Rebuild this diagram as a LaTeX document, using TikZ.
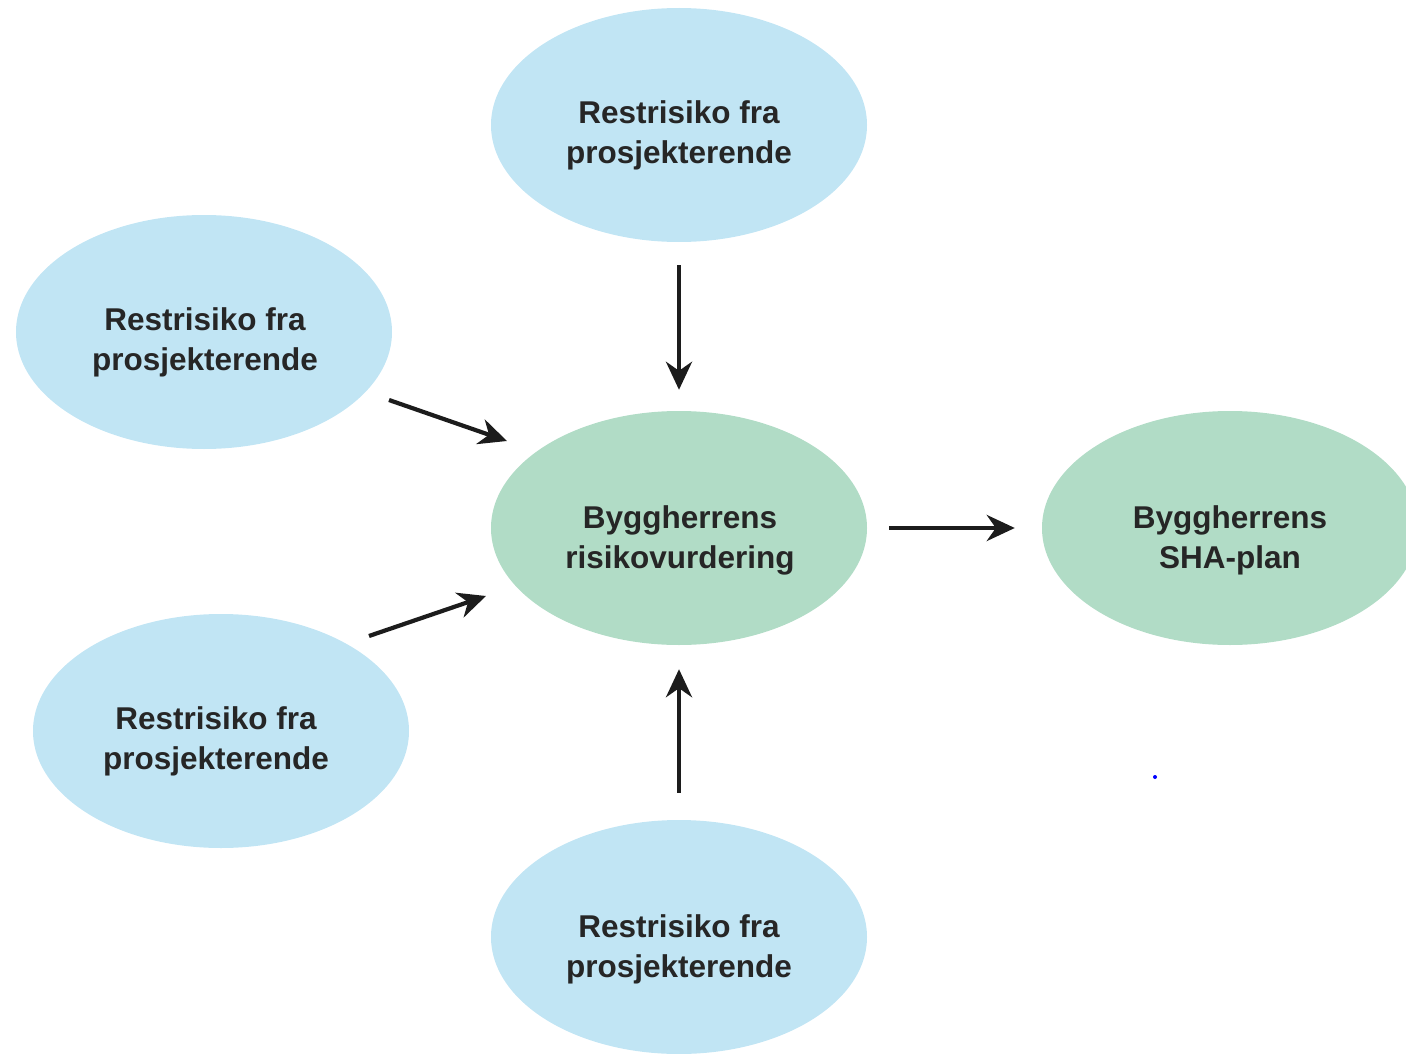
\documentclass[tikz,border=0pt]{standalone}
\usepackage{fontspec}
\setmainfont{Liberation Sans}
\usetikzlibrary{shapes.geometric,arrows.meta,calc}
\definecolor{riskblue}{HTML}{C1E5F4}
\definecolor{plangreen}{HTML}{B1DCC6}
\definecolor{txt}{HTML}{262626}
\definecolor{arrowc}{HTML}{1C1C1C}
\begin{document}
\begin{tikzpicture}[x=1pt,y=-1pt,
  blob/.style={ellipse, minimum width=376pt, minimum height=234pt, inner sep=0pt},
  risk/.style={blob, fill=riskblue},
  plan/.style={blob, fill=plangreen},
  lbl/.style={font=\bfseries\fontsize{31.5}{40}\selectfont, text=txt, align=center, inner sep=0pt},
  flow/.style={line width=4.2pt, draw=arrowc, -{Stealth[length=28pt,width=26pt,inset=9pt]}}]
\clip (0,0) rectangle (1406,1054);
\node[risk] (top) at (679,125) {};
\node[risk] (lu) at (204,332) {};
\node[risk] (ll) at (221,731) {};
\node[risk] (bot) at (679,937) {};
\node[plan] (c) at (679,528) {};
\node[plan] (sha) at (1230,528) {};
\node[lbl] (topL) at ($(top)+(0,10)$) {Restrisiko fra\\prosjekterende};
\node[lbl] (luL) at ($(lu)+(1,10)$) {Restrisiko fra\\prosjekterende};
\node[lbl] (llL) at ($(ll)+(-5,10)$) {Restrisiko fra\\prosjekterende};
\node[lbl] (botL) at ($(bot)+(0,12)$) {Restrisiko fra\\prosjekterende};
\node[lbl] (cL) at ($(c)+(1,12)$) {Byggherrens\\risikovurdering};
\node[lbl] (shaL) at ($(sha)+(0,12)$) {Byggherrens\\SHA-plan};
\coordinate (luA) at ($(lu)+(185,68)$);
\coordinate (luB) at ($(c)+(-172,-87)$);
\coordinate (llA) at ($(ll)+(148,-95)$);
\coordinate (llB) at ($(c)+(-193,68)$);
\draw[flow, shorten <=23pt, shorten >=21pt] (top) -- (c);
\draw[flow, shorten <=27pt, shorten >=24pt] (bot) -- (c);
\draw[flow, shorten <=22pt, shorten >=27pt] (c) -- (sha);
\draw[flow] (luA) -- (luB);
\draw[flow] (llA) -- (llB);
\fill[blue] (1155,777) circle (2pt);
\end{tikzpicture}
\end{document}
